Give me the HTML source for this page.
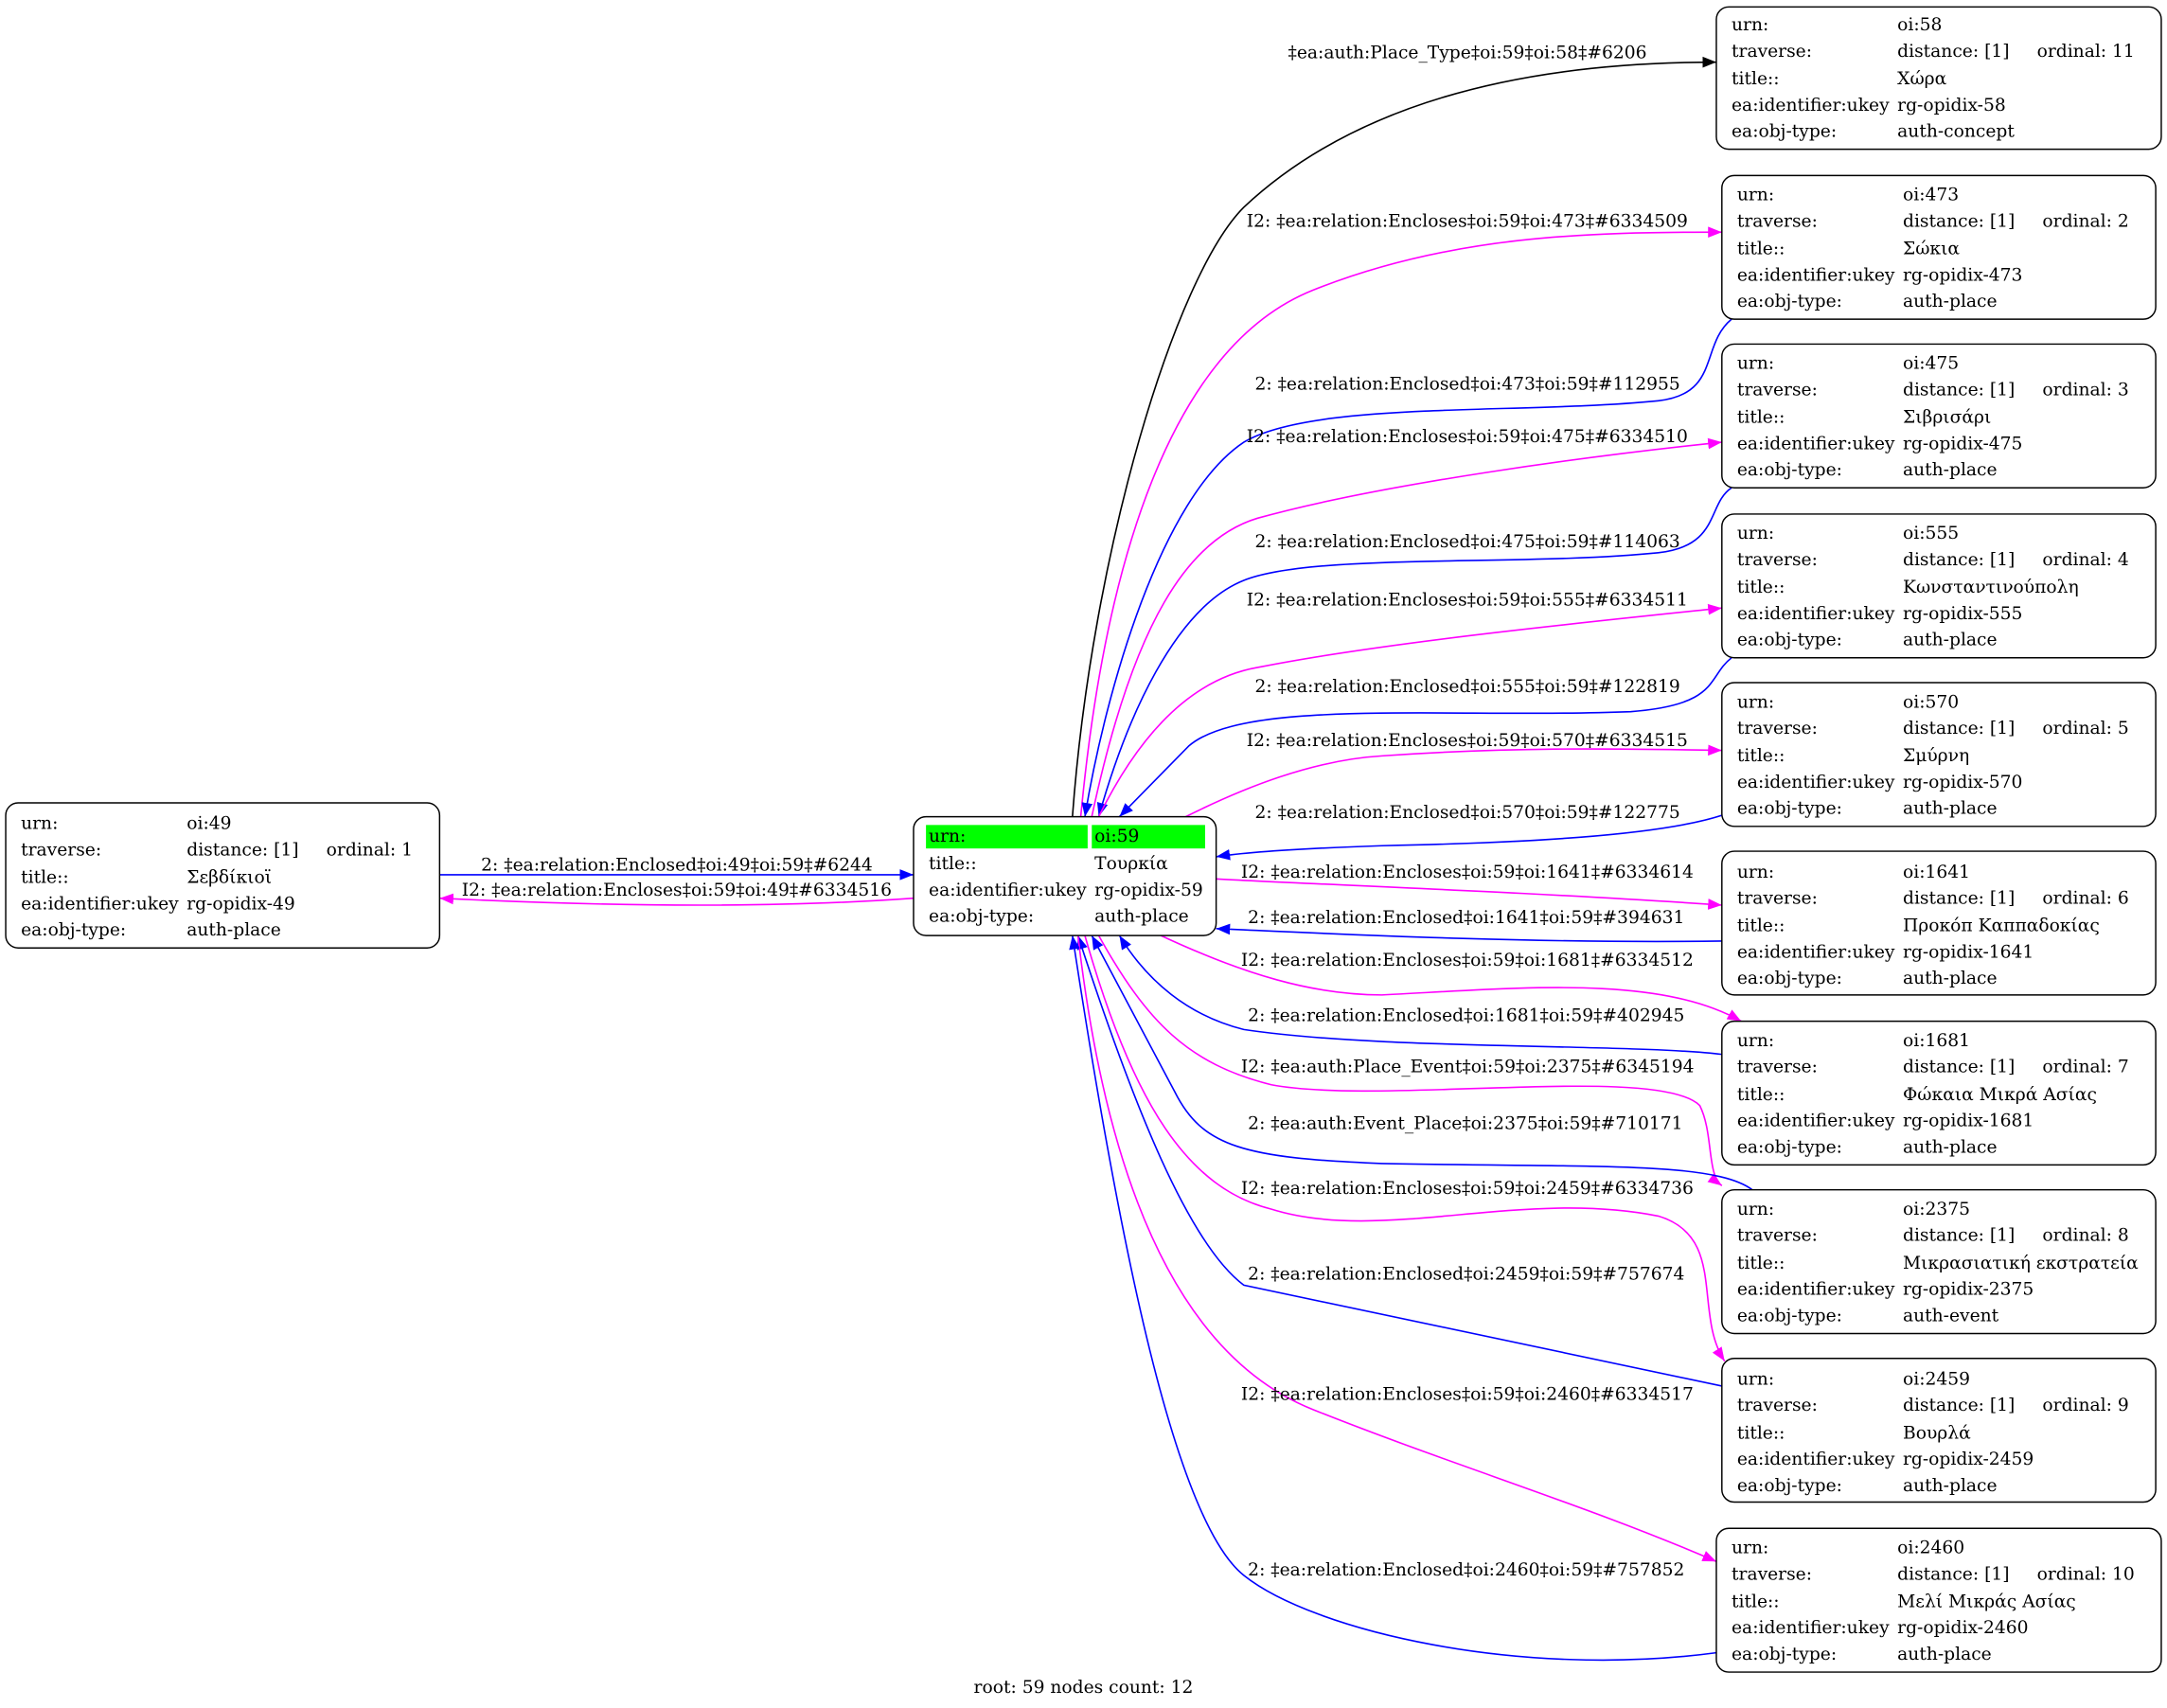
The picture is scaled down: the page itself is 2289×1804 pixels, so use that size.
<!DOCTYPE html>
<html><head><meta charset="utf-8"><style>
html,body{margin:0;padding:0;background:#fff;}
svg{display:block;}
text{font-family:"DejaVu Serif","Liberation Serif",serif;font-size:12.8px;fill:#000;}
</style></head><body>
<svg width="2289" height="1804" viewBox="0 0 1568 1236" xmlns="http://www.w3.org/2000/svg">
<defs>
<marker id="ab" viewBox="0 0 10 10" refX="10" refY="5" markerWidth="10" markerHeight="10" markerUnits="userSpaceOnUse" orient="auto"><path d="M0,1 L10,5 L0,9 z" fill="#0000ff"/></marker>
<marker id="am" viewBox="0 0 10 10" refX="10" refY="5" markerWidth="10" markerHeight="10" markerUnits="userSpaceOnUse" orient="auto"><path d="M0,1 L10,5 L0,9 z" fill="#ff00ff"/></marker>
<marker id="ak" viewBox="0 0 10 10" refX="10" refY="5" markerWidth="10" markerHeight="10" markerUnits="userSpaceOnUse" orient="auto"><path d="M0,1 L10,5 L0,9 z" fill="#000"/></marker>
</defs>
<g fill="none" stroke-width="1.1">
<path d="M776,591 C790,400 850,200 900,150 C980,75 1100,45 1242,45" stroke="#000" marker-end="url(#ak)"/>
<path d="M782,591 C800,400 850,250 950,210 C1050,170 1150,168 1246,168" stroke="#ff00ff" marker-end="url(#am)"/>
<path d="M1253,231 C1230,250 1245,285 1200,290 C1100,300 950,290 900,320 C840,360 800,500 785,591" stroke="#0000ff" marker-end="url(#ab)"/>
<path d="M790,591 C820,450 860,390 910,375 C1000,350 1150,330 1246,320" stroke="#ff00ff" marker-end="url(#am)"/>
<path d="M1253,353 C1235,365 1245,395 1200,400 C1100,410 950,400 900,420 C850,440 815,520 795,591" stroke="#0000ff" marker-end="url(#ab)"/>
<path d="M795,591 C830,520 870,490 910,483 C1000,465 1150,450 1246,440" stroke="#ff00ff" marker-end="url(#am)"/>
<path d="M1253,476 C1235,490 1245,510 1180,515 C1050,520 900,505 860,540 L810,591" stroke="#0000ff" marker-end="url(#ab)"/>
<path d="M858,591 C900,570 950,550 1000,547 C1100,540 1180,542 1246,543" stroke="#ff00ff" marker-end="url(#am)"/>
<path d="M1246,590 C1200,605 1100,610 1000,612 C940,614 900,617 880,620" stroke="#0000ff" marker-end="url(#ab)"/>
<path d="M880,636 C950,640 1100,645 1246,655" stroke="#ff00ff" marker-end="url(#am)"/>
<path d="M1246,681 C1100,683 950,675 880,672" stroke="#0000ff" marker-end="url(#ab)"/>
<path d="M840,677 C900,705 950,720 1000,720 C1100,715 1200,705 1260,739" stroke="#ff00ff" marker-end="url(#am)"/>
<path d="M1246,763 C1180,755 1000,760 900,745 C860,735 830,710 810,677" stroke="#0000ff" marker-end="url(#ab)"/>
<path d="M795,677 C830,740 860,770 920,785 C1000,800 1200,770 1230,800 C1240,820 1235,850 1246,858" stroke="#ff00ff" marker-end="url(#am)"/>
<path d="M1268,861 C1240,840 1150,845 1000,842 C900,838 870,830 850,790 L790,677" stroke="#0000ff" marker-end="url(#ab)"/>
<path d="M785,677 C820,800 860,860 920,875 C1000,900 1100,860 1200,880 C1250,895 1225,950 1248,985" stroke="#ff00ff" marker-end="url(#am)"/>
<path d="M1246,1003 L900,930 C860,900 820,800 780,677" stroke="#0000ff" marker-end="url(#ab)"/>
<path d="M780,677 C800,850 850,980 950,1020 C1050,1060 1150,1090 1242,1130" stroke="#ff00ff" marker-end="url(#am)"/>
<path d="M1242,1196 C1100,1215 950,1180 900,1140 C850,1100 810,900 776,677" stroke="#0000ff" marker-end="url(#ab)"/>
<path d="M318,633 L661,633" stroke="#0000ff" marker-end="url(#ab)"/>
<path d="M661,650 C550,658 420,655 318,650" stroke="#ff00ff" marker-end="url(#am)"/>
</g>
<g>
<text x="932" y="42">‡ea:auth:Place_Type‡oi:59‡oi:58‡#6206</text>
<text x="902" y="164">I2: ‡ea:relation:Encloses‡oi:59‡oi:473‡#6334509</text>
<text x="908" y="282">2: ‡ea:relation:Enclosed‡oi:473‡oi:59‡#112955</text>
<text x="902" y="320">I2: ‡ea:relation:Encloses‡oi:59‡oi:475‡#6334510</text>
<text x="908" y="396">2: ‡ea:relation:Enclosed‡oi:475‡oi:59‡#114063</text>
<text x="902" y="438">I2: ‡ea:relation:Encloses‡oi:59‡oi:555‡#6334511</text>
<text x="908" y="501">2: ‡ea:relation:Enclosed‡oi:555‡oi:59‡#122819</text>
<text x="902" y="540">I2: ‡ea:relation:Encloses‡oi:59‡oi:570‡#6334515</text>
<text x="908" y="592">2: ‡ea:relation:Enclosed‡oi:570‡oi:59‡#122775</text>
<text x="898" y="635">I2: ‡ea:relation:Encloses‡oi:59‡oi:1641‡#6334614</text>
<text x="903" y="668">2: ‡ea:relation:Enclosed‡oi:1641‡oi:59‡#394631</text>
<text x="898" y="699">I2: ‡ea:relation:Encloses‡oi:59‡oi:1681‡#6334512</text>
<text x="903" y="739">2: ‡ea:relation:Enclosed‡oi:1681‡oi:59‡#402945</text>
<text x="898" y="776">I2: ‡ea:auth:Place_Event‡oi:59‡oi:2375‡#6345194</text>
<text x="903" y="817">2: ‡ea:auth:Event_Place‡oi:2375‡oi:59‡#710171</text>
<text x="898" y="864">I2: ‡ea:relation:Encloses‡oi:59‡oi:2459‡#6334736</text>
<text x="903" y="926">2: ‡ea:relation:Enclosed‡oi:2459‡oi:59‡#757674</text>
<text x="898" y="1013">I2: ‡ea:relation:Encloses‡oi:59‡oi:2460‡#6334517</text>
<text x="903" y="1140">2: ‡ea:relation:Enclosed‡oi:2460‡oi:59‡#757852</text>
<text x="348" y="630">2: ‡ea:relation:Enclosed‡oi:49‡oi:59‡#6244</text>
<text x="334" y="648">I2: ‡ea:relation:Encloses‡oi:59‡oi:49‡#6334516</text>
<text x="784" y="1225" text-anchor="middle">root: 59 nodes count: 12</text>
</g>
<rect x="661" y="591" width="219" height="86" rx="9" fill="#fff" stroke="#000"/>
<rect x="670" y="597" width="117" height="17" fill="#00ff00"/>
<rect x="790" y="597" width="82" height="17" fill="#00ff00"/>
<text x="672" y="609">urn:</text><text x="792" y="609">oi:59</text>
<text x="672" y="629">title::</text><text x="792" y="629">Τουρκία</text>
<text x="672" y="648">ea:identifier:ukey</text><text x="792" y="648">rg-opidix-59</text>
<text x="672" y="667">ea:obj-type:</text><text x="792" y="667">auth-place</text>
<g>
<rect x="4" y="581" width="314" height="105" rx="9" fill="#fff" stroke="#000"/>
<text x="15" y="600">urn:</text><text x="135" y="600">oi:49</text>
<text x="15" y="619">traverse:</text><text x="135" y="619">distance: [1]</text><text x="236" y="619">ordinal: 1</text>
<text x="15" y="639">title::</text><text x="135" y="639">Σεβδίκιοϊ</text>
<text x="15" y="658">ea:identifier:ukey</text><text x="135" y="658">rg-opidix-49</text>
<text x="15" y="677">ea:obj-type:</text><text x="135" y="677">auth-place</text>
</g>
<g>
<rect x="1242" y="5" width="322" height="103" rx="9" fill="#fff" stroke="#000"/>
<text x="1253" y="22">urn:</text><text x="1373" y="22">oi:58</text>
<text x="1253" y="41">traverse:</text><text x="1373" y="41">distance: [1]</text><text x="1474" y="41">ordinal: 11</text>
<text x="1253" y="61">title::</text><text x="1373" y="61">Χώρα</text>
<text x="1253" y="80">ea:identifier:ukey</text><text x="1373" y="80">rg-opidix-58</text>
<text x="1253" y="99">ea:obj-type:</text><text x="1373" y="99">auth-concept</text>
</g>
<g>
<rect x="1246" y="127" width="314" height="104" rx="9" fill="#fff" stroke="#000"/>
<text x="1257" y="145">urn:</text><text x="1377" y="145">oi:473</text>
<text x="1257" y="164">traverse:</text><text x="1377" y="164">distance: [1]</text><text x="1478" y="164">ordinal: 2</text>
<text x="1257" y="184">title::</text><text x="1377" y="184">Σώκια</text>
<text x="1257" y="203">ea:identifier:ukey</text><text x="1377" y="203">rg-opidix-473</text>
<text x="1257" y="222">ea:obj-type:</text><text x="1377" y="222">auth-place</text>
</g>
<g>
<rect x="1246" y="249" width="314" height="104" rx="9" fill="#fff" stroke="#000"/>
<text x="1257" y="267">urn:</text><text x="1377" y="267">oi:475</text>
<text x="1257" y="286">traverse:</text><text x="1377" y="286">distance: [1]</text><text x="1478" y="286">ordinal: 3</text>
<text x="1257" y="306">title::</text><text x="1377" y="306">Σιβρισάρι</text>
<text x="1257" y="325">ea:identifier:ukey</text><text x="1377" y="325">rg-opidix-475</text>
<text x="1257" y="344">ea:obj-type:</text><text x="1377" y="344">auth-place</text>
</g>
<g>
<rect x="1246" y="372" width="314" height="104" rx="9" fill="#fff" stroke="#000"/>
<text x="1257" y="390">urn:</text><text x="1377" y="390">oi:555</text>
<text x="1257" y="409">traverse:</text><text x="1377" y="409">distance: [1]</text><text x="1478" y="409">ordinal: 4</text>
<text x="1257" y="429">title::</text><text x="1377" y="429">Κωνσταντινούπολη</text>
<text x="1257" y="448">ea:identifier:ukey</text><text x="1377" y="448">rg-opidix-555</text>
<text x="1257" y="467">ea:obj-type:</text><text x="1377" y="467">auth-place</text>
</g>
<g>
<rect x="1246" y="494" width="314" height="104" rx="9" fill="#fff" stroke="#000"/>
<text x="1257" y="512">urn:</text><text x="1377" y="512">oi:570</text>
<text x="1257" y="531">traverse:</text><text x="1377" y="531">distance: [1]</text><text x="1478" y="531">ordinal: 5</text>
<text x="1257" y="551">title::</text><text x="1377" y="551">Σμύρνη</text>
<text x="1257" y="570">ea:identifier:ukey</text><text x="1377" y="570">rg-opidix-570</text>
<text x="1257" y="589">ea:obj-type:</text><text x="1377" y="589">auth-place</text>
</g>
<g>
<rect x="1246" y="616" width="314" height="104" rx="9" fill="#fff" stroke="#000"/>
<text x="1257" y="635">urn:</text><text x="1377" y="635">oi:1641</text>
<text x="1257" y="654">traverse:</text><text x="1377" y="654">distance: [1]</text><text x="1478" y="654">ordinal: 6</text>
<text x="1257" y="674">title::</text><text x="1377" y="674">Προκόπ Καππαδοκίας</text>
<text x="1257" y="693">ea:identifier:ukey</text><text x="1377" y="693">rg-opidix-1641</text>
<text x="1257" y="712">ea:obj-type:</text><text x="1377" y="712">auth-place</text>
</g>
<g>
<rect x="1246" y="739" width="314" height="104" rx="9" fill="#fff" stroke="#000"/>
<text x="1257" y="757">urn:</text><text x="1377" y="757">oi:1681</text>
<text x="1257" y="776">traverse:</text><text x="1377" y="776">distance: [1]</text><text x="1478" y="776">ordinal: 7</text>
<text x="1257" y="796">title::</text><text x="1377" y="796">Φώκαια Μικρά Ασίας</text>
<text x="1257" y="815">ea:identifier:ukey</text><text x="1377" y="815">rg-opidix-1681</text>
<text x="1257" y="834">ea:obj-type:</text><text x="1377" y="834">auth-place</text>
</g>
<g>
<rect x="1246" y="861" width="314" height="104" rx="9" fill="#fff" stroke="#000"/>
<text x="1257" y="879">urn:</text><text x="1377" y="879">oi:2375</text>
<text x="1257" y="898">traverse:</text><text x="1377" y="898">distance: [1]</text><text x="1478" y="898">ordinal: 8</text>
<text x="1257" y="918">title::</text><text x="1377" y="918">Μικρασιατική εκστρατεία</text>
<text x="1257" y="937">ea:identifier:ukey</text><text x="1377" y="937">rg-opidix-2375</text>
<text x="1257" y="956">ea:obj-type:</text><text x="1377" y="956">auth-event</text>
</g>
<g>
<rect x="1246" y="983" width="314" height="104" rx="9" fill="#fff" stroke="#000"/>
<text x="1257" y="1002">urn:</text><text x="1377" y="1002">oi:2459</text>
<text x="1257" y="1021">traverse:</text><text x="1377" y="1021">distance: [1]</text><text x="1478" y="1021">ordinal: 9</text>
<text x="1257" y="1041">title::</text><text x="1377" y="1041">Βουρλά</text>
<text x="1257" y="1060">ea:identifier:ukey</text><text x="1377" y="1060">rg-opidix-2459</text>
<text x="1257" y="1079">ea:obj-type:</text><text x="1377" y="1079">auth-place</text>
</g>
<g>
<rect x="1242" y="1106" width="322" height="104" rx="9" fill="#fff" stroke="#000"/>
<text x="1253" y="1124">urn:</text><text x="1373" y="1124">oi:2460</text>
<text x="1253" y="1143">traverse:</text><text x="1373" y="1143">distance: [1]</text><text x="1474" y="1143">ordinal: 10</text>
<text x="1253" y="1163">title::</text><text x="1373" y="1163">Μελί Μικράς Ασίας</text>
<text x="1253" y="1182">ea:identifier:ukey</text><text x="1373" y="1182">rg-opidix-2460</text>
<text x="1253" y="1201">ea:obj-type:</text><text x="1373" y="1201">auth-place</text>
</g>
</svg>
</body></html>
